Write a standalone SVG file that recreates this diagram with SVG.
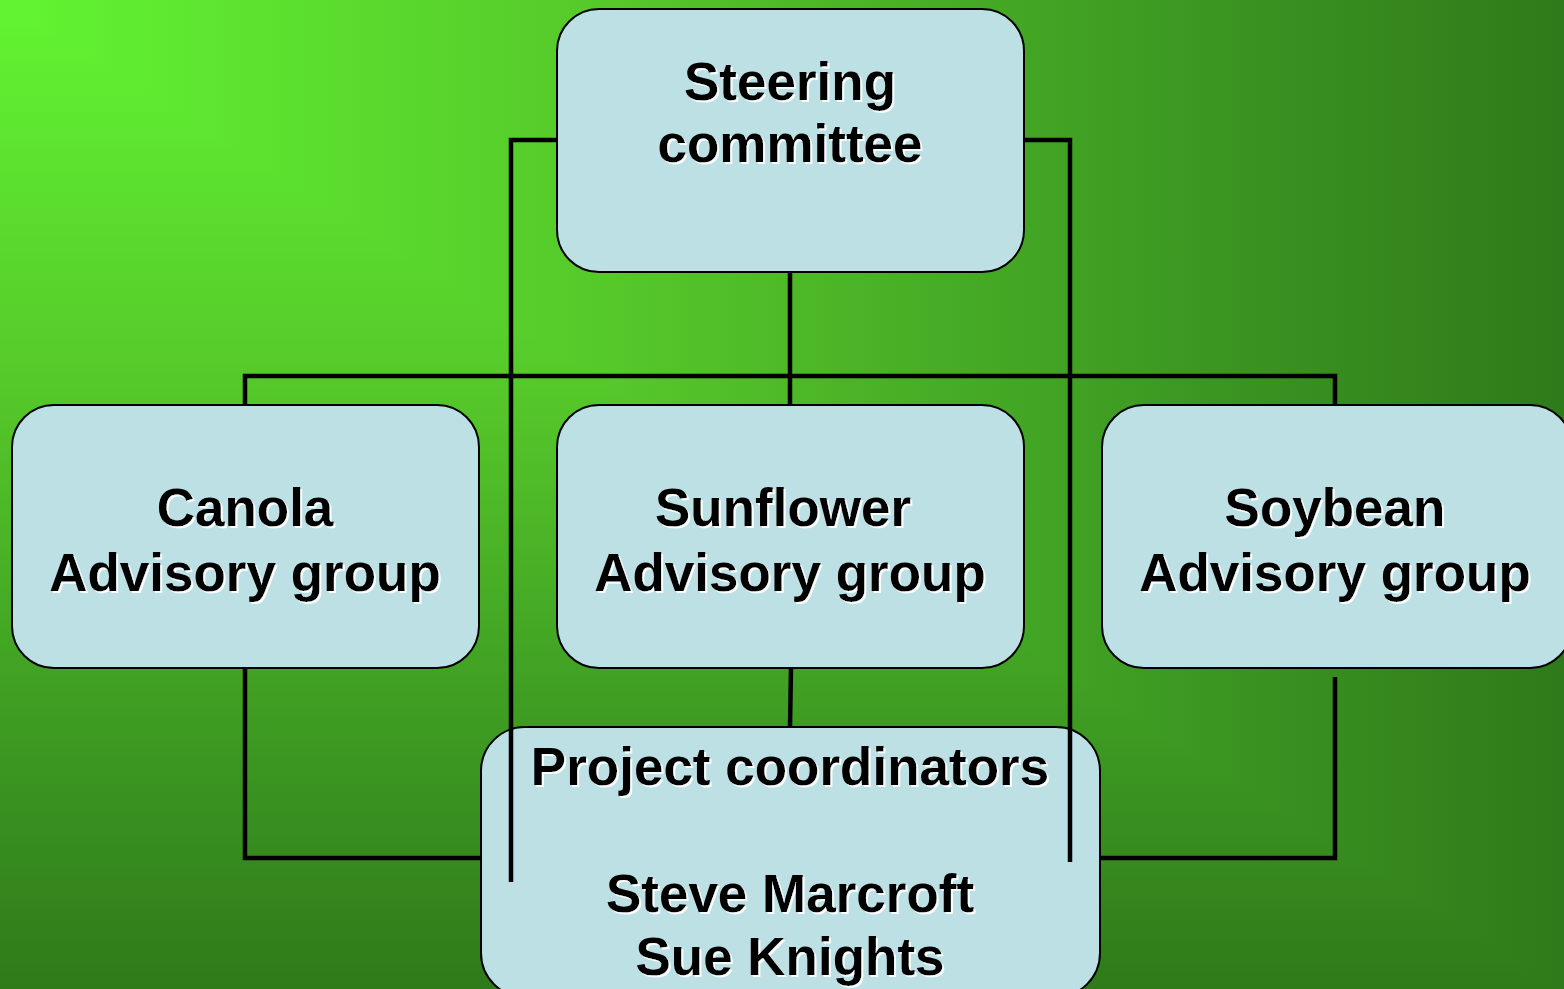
<svg xmlns="http://www.w3.org/2000/svg" width="1564" height="989" viewBox="0 0 1564 989">
<defs>
<linearGradient id="gh" x1="0" y1="0" x2="1564" y2="0" gradientUnits="userSpaceOnUse">
<stop offset="0" stop-color="#62F532"/>
<stop offset="0.4" stop-color="#55C72A"/>
<stop offset="0.74" stop-color="#3D9A22"/>
<stop offset="1" stop-color="#2F7A1A"/>
</linearGradient>
<linearGradient id="gv" x1="0" y1="0" x2="0" y2="989" gradientUnits="userSpaceOnUse">
<stop offset="0" stop-color="#62F532"/>
<stop offset="0.4" stop-color="#55C72A"/>
<stop offset="0.74" stop-color="#3D9A22"/>
<stop offset="1" stop-color="#2F7A1A"/>
</linearGradient>
<filter id="sh" x="-5%" y="-20%" width="110%" height="140%">
<feDropShadow dx="2" dy="2" stdDeviation="0" flood-color="#FFFFFF" flood-opacity="0.9"/>
</filter>
</defs>
<style>
.box{fill:#BCE0E4;stroke:#000;stroke-width:2}
.t{font-family:"Liberation Sans",Arial,sans-serif;font-weight:bold;font-size:53px;fill:#000;text-anchor:middle;filter:url(#sh)}
.c{fill:none;stroke:#000;stroke-width:4.5;stroke-linecap:butt;stroke-linejoin:miter}
</style>
<rect x="0" y="0" width="1564" height="989" fill="url(#gv)"/>
<polygon points="0,0 1564,0 1564,989" fill="url(#gh)"/>
<g id="connectors">
<path class="c" d="M790,272 V405"/>
<path class="c" d="M245,405 V376 H1335 V405"/>
<path class="c" d="M791,668 L790,727"/>
<path class="c" d="M245,668 V858 H481"/>
<path class="c" d="M1335,677 V858 H1100"/>
</g>
<g id="steering">
<rect class="box" x="557" y="9" width="467" height="263" rx="42"/>
<text class="t" x="790" y="100">Steering</text>
<text class="t" x="790" y="162">committee</text>
</g>
<g id="canola">
<rect class="box" x="12" y="405" width="467" height="263" rx="42"/>
<text class="t" x="245" y="526">Canola</text>
<text class="t" x="245" y="591">Advisory group</text>
</g>
<g id="sunflower">
<rect class="box" x="557" y="405" width="467" height="263" rx="42"/>
<text class="t" x="783" y="526">Sunflower</text>
<text class="t" x="790" y="591">Advisory group</text>
</g>
<g id="soybean">
<rect class="box" x="1102" y="405" width="470" height="263" rx="42"/>
<text class="t" x="1335" y="526">Soybean</text>
<text class="t" x="1335" y="591">Advisory group</text>
</g>
<g id="coordinators">
<rect class="box" x="481" y="727" width="619" height="270" rx="44"/>
<text class="t" x="790" y="785">Project coordinators</text>
<text class="t" x="790" y="912">Steve Marcroft</text>
<text class="t" x="790" y="975">Sue Knights</text>
</g>
<g id="connectors-over">
<path class="c" d="M557,140 H511 V882"/>
<path class="c" d="M1024,140 H1070 V862"/>
</g>
</svg>
